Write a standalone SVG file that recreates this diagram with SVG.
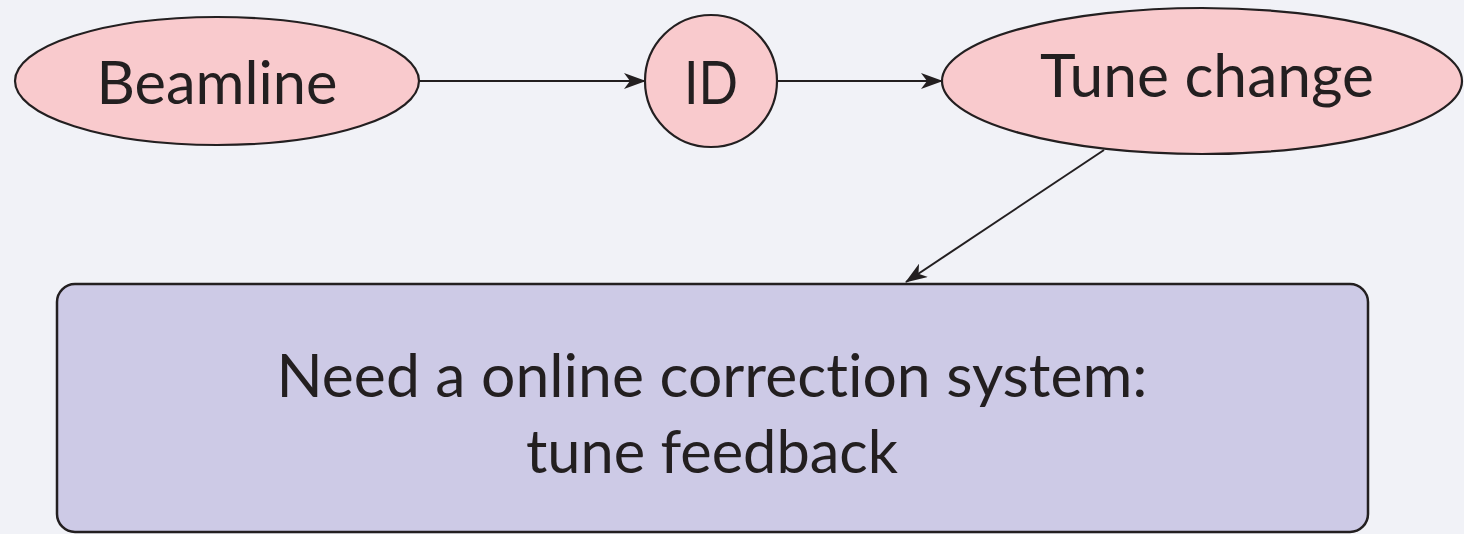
<svg xmlns="http://www.w3.org/2000/svg" width="1464" height="534" viewBox="0 0 1464 534">
<defs>
<style>
.node{fill:#f9cacd;stroke:#231f20;stroke-width:2.2}
.box{fill:#cdcae6;stroke:#231f20;stroke-width:2.5}
.lbl{font-family:Lato,"Liberation Sans",sans-serif;font-size:60px;fill:#231f20;text-anchor:middle;font-variant-ligatures:none;font-feature-settings:"liga" 0}
.edge{stroke:#231f20;stroke-width:2;fill:none;marker-end:url(#ah)}
</style>
<marker id="ah" viewBox="0 0 22 16" refX="21" refY="8" markerWidth="22" markerHeight="16" markerUnits="userSpaceOnUse" orient="auto">
<path d="M0,0 L22,8 L0,16 L6,8 Z" fill="#231f20"/>
</marker>
</defs>
<rect width="1464" height="534" fill="#f1f2f7"/>
<g id="connectors">
<line class="edge" x1="419" y1="81" x2="645" y2="81"/>
<line class="edge" x1="777" y1="81" x2="942" y2="81"/>
<line class="edge" x1="1104" y1="150" x2="906" y2="282"/>
</g>
<g id="beamline">
<ellipse class="node" cx="217" cy="81" rx="202" ry="64"/>
<text class="lbl" x="217" y="104" textLength="241" lengthAdjust="spacingAndGlyphs">Beamline</text>
</g>
<g id="id">
<circle class="node" cx="711" cy="81" r="66"/>
<text class="lbl" x="711" y="104" textLength="54" lengthAdjust="spacingAndGlyphs">ID</text>
</g>
<g id="tune-change">
<ellipse class="node" cx="1202" cy="81" rx="260" ry="73"/>
<text class="lbl" x="1207" y="97" textLength="334" lengthAdjust="spacingAndGlyphs">Tune change</text>
</g>
<g id="feedback">
<rect class="box" x="57" y="284" width="1311" height="248" rx="18"/>
<text class="lbl" x="712" y="397" textLength="871" lengthAdjust="spacingAndGlyphs">Need a online correction system:</text>
<text class="lbl" x="712" y="473" textLength="372" lengthAdjust="spacingAndGlyphs">tune feedback</text>
</g>
</svg>
